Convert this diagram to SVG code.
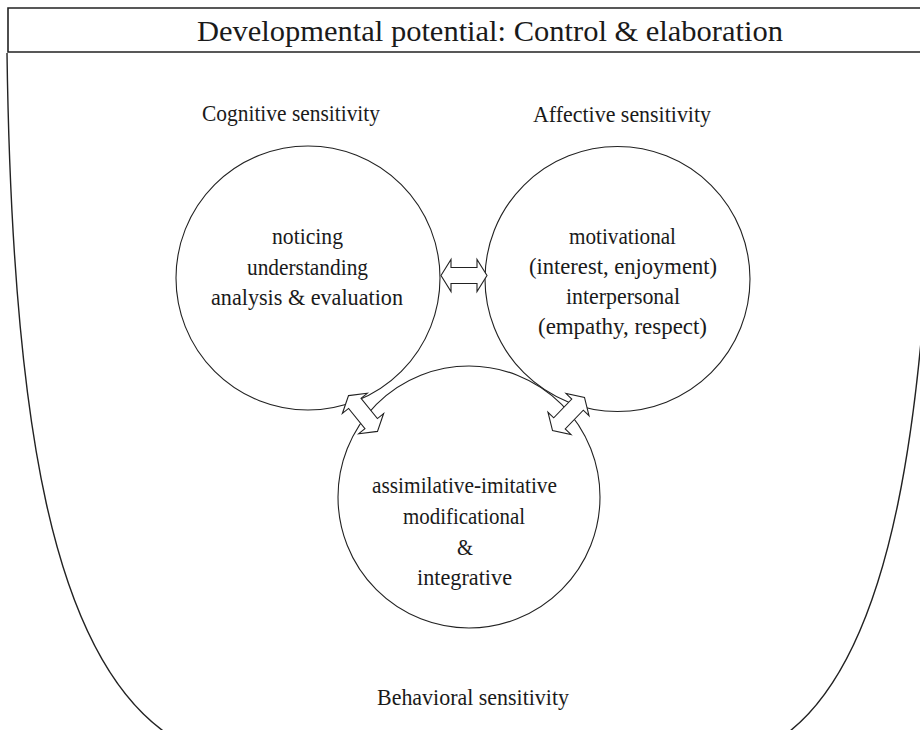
<svg xmlns="http://www.w3.org/2000/svg" width="920" height="730" viewBox="0 0 920 730">
  <style>
    .frame { fill: none; stroke: #222; stroke-width: 1.6; }
    .bowl { fill: none; stroke: #222; stroke-width: 1.4; }
    .node { fill: none; stroke: #222; stroke-width: 1.1; }
    .link { fill: #fff; stroke: #222; stroke-width: 1.1; stroke-linejoin: miter; }
    text { font-family: "Liberation Serif", "DejaVu Serif", serif; fill: #1a1a1a; }
    .title { font-size: 29px; }
    .lbl { font-size: 24px; }
  </style>
  <defs>
    <!-- double-headed block arrow, centred on the origin, pointing along x -->
    <polygon id="dbl" points="-23,0 -13,-16 -13,-8 13,-8 13,-16 23,0 13,16 13,8 -13,8 -13,16"/>
  </defs>

  <!-- heading bar -->
  <g id="header">
    <path class="frame" d="M925,8 H8 V52 H925"/>
    <text class="title" x="197" y="41" textLength="586" lengthAdjust="spacingAndGlyphs">Developmental potential: Control &amp; elaboration</text>
  </g>

  <!-- enclosing bowl -->
  <g id="bowl">
    <path class="bowl" d="M7,53 C12,420 52,660 172,737"/>
    <path class="bowl" d="M935,53 C930,420 892,660 782,737"/>
  </g>

  <g id="cognitive">
    <circle class="node" cx="308" cy="278" r="132"/>
    <text class="lbl" x="202" y="121" textLength="178" lengthAdjust="spacingAndGlyphs">Cognitive sensitivity</text>
    <text class="lbl" x="272" y="244" textLength="71" lengthAdjust="spacingAndGlyphs">noticing</text>
    <text class="lbl" x="247" y="275" textLength="121" lengthAdjust="spacingAndGlyphs">understanding</text>
    <text class="lbl" x="211" y="305" textLength="192" lengthAdjust="spacingAndGlyphs">analysis &amp; evaluation</text>
  </g>

  <g id="affective">
    <circle class="node" cx="617.5" cy="279" r="132.5"/>
    <text class="lbl" x="533" y="122" textLength="178" lengthAdjust="spacingAndGlyphs">Affective sensitivity</text>
    <text class="lbl" x="569" y="244" textLength="107" lengthAdjust="spacingAndGlyphs">motivational</text>
    <text class="lbl" x="529" y="274" textLength="188" lengthAdjust="spacingAndGlyphs">(interest, enjoyment)</text>
    <text class="lbl" x="566" y="304" textLength="114" lengthAdjust="spacingAndGlyphs">interpersonal</text>
    <text class="lbl" x="538" y="334" textLength="169" lengthAdjust="spacingAndGlyphs">(empathy, respect)</text>
  </g>

  <g id="behavioral">
    <circle class="node" cx="469" cy="497" r="131"/>
    <text class="lbl" x="372" y="493" textLength="185" lengthAdjust="spacingAndGlyphs">assimilative-imitative</text>
    <text class="lbl" x="403" y="524" textLength="122" lengthAdjust="spacingAndGlyphs">modificational</text>
    <text class="lbl" x="457" y="555" textLength="16" lengthAdjust="spacingAndGlyphs">&amp;</text>
    <text class="lbl" x="417" y="585" textLength="95" lengthAdjust="spacingAndGlyphs">integrative</text>
    <text class="lbl" x="377" y="705" textLength="192" lengthAdjust="spacingAndGlyphs">Behavioral sensitivity</text>
  </g>

  <!-- connectors -->
  <g id="connectors">
    <use href="#dbl" class="link" transform="translate(464,275.5)"/>
    <use href="#dbl" class="link" transform="translate(363,413.5) rotate(51)"/>
    <use href="#dbl" class="link" transform="translate(568.5,414) rotate(134)"/>
  </g>
</svg>
